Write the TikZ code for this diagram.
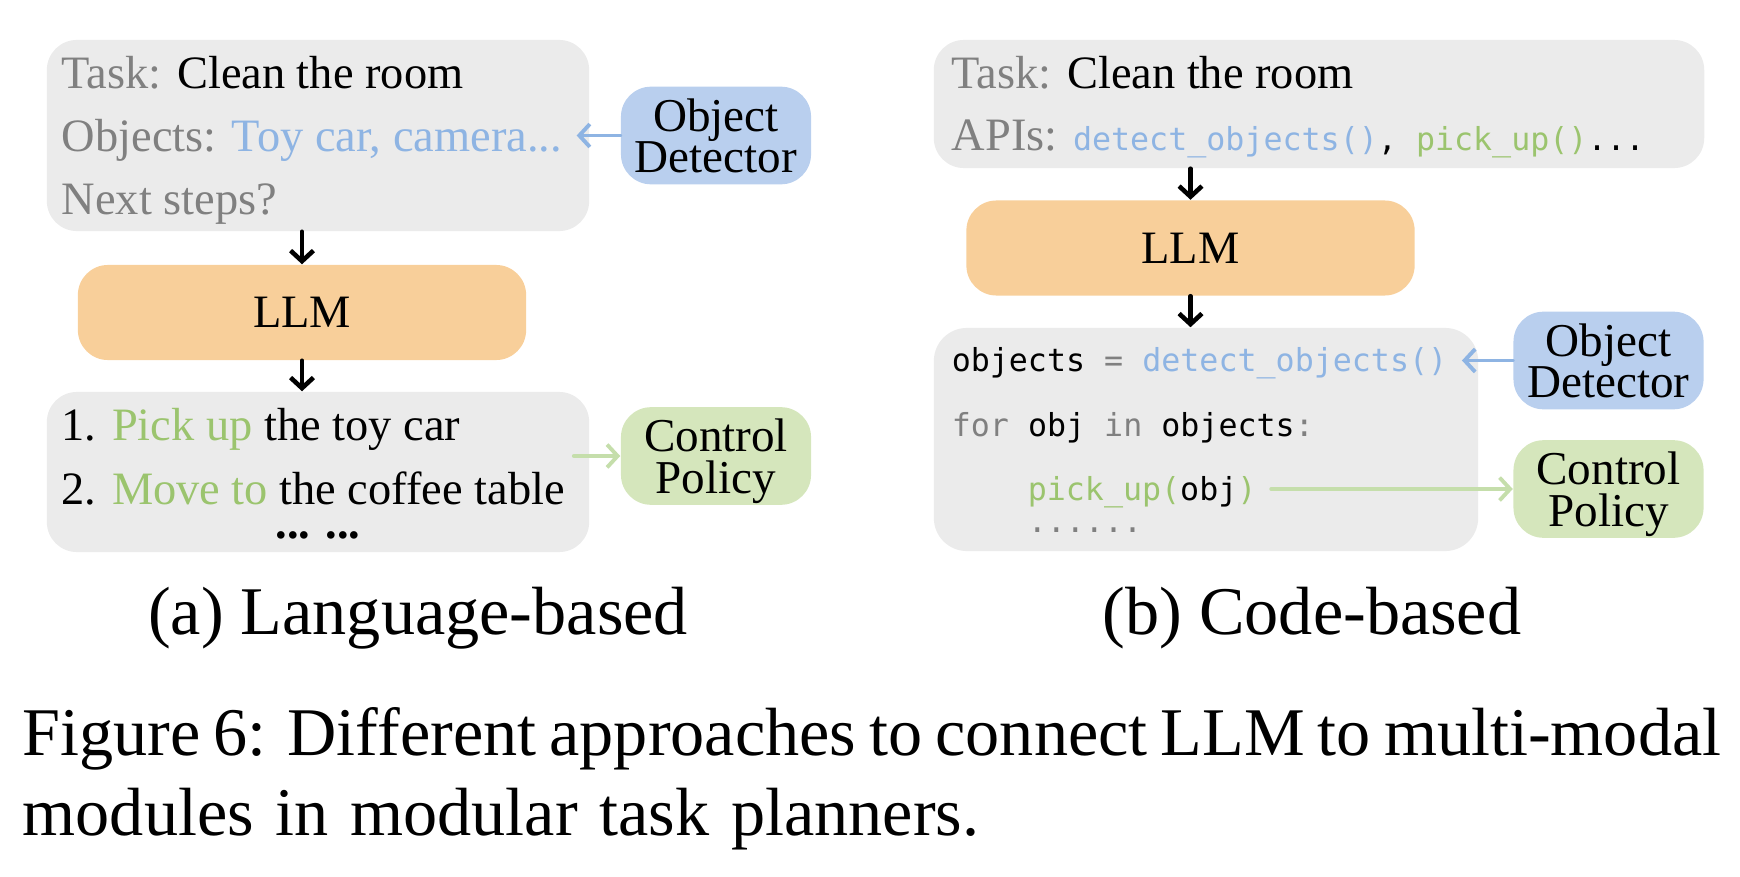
\documentclass[tikz,border=0pt]{standalone}
\usepackage{fontspec}
\setmainfont{Liberation Serif}
\setmonofont{DejaVu Sans Mono}
\usepackage{tikz}
\usetikzlibrary{arrows.meta, calc, positioning}
\definecolor{boxgray}{HTML}{EBEBEB}
\definecolor{textgray}{HTML}{808080}
\definecolor{textblue}{HTML}{8EB4E3}
\definecolor{textgreen}{HTML}{9BC46E}
\definecolor{fillblue}{HTML}{B9CFEE}
\definecolor{fillgreen}{HTML}{D5E6BC}
\definecolor{fillorange}{HTML}{F8CF9A}
\definecolor{arrowgreen}{HTML}{C5DEAB}
\newcommand{\boxfont}{\fontsize{13.2pt}{15pt}\selectfont}
\newcommand{\codefont}{\ttfamily\fontsize{9pt}{11pt}\selectfont}
\newcommand{\capfont}{\fontsize{19.4pt}{23pt}\selectfont}
\newcommand{\us}{\textunderscore}
\tikzstyle{panelbox} = [rectangle, rounded corners=0.3cm, fill=boxgray, inner sep=0pt]
\tikzstyle{llmbox} = [rectangle, rounded corners=0.3cm, fill=fillorange, minimum width=4.48cm, minimum height=0.95cm, font=\boxfont]
\tikzstyle{modulebox} = [rectangle, rounded corners=0.3cm, minimum width=1.9cm, minimum height=0.95cm, align=center, text depth=0pt, font=\fontsize{13.4pt}{11.8pt}\selectfont]
\tikzstyle{detector} = [modulebox, fill=fillblue]
\tikzstyle{policy} = [modulebox, fill=fillgreen]
\tikzstyle{line} = [anchor=base west, inner xsep=4pt, inner ysep=1pt, font=\boxfont]
\tikzstyle{codeline} = [line, font=\codefont]
\tikzstyle{flowarrow} = [-{Straight Barb[length=3pt,width=6.5pt]}, line width=1.3pt, line cap=round]
\tikzstyle{detarrow} = [flowarrow, color=textblue, line width=1.1pt]
\tikzstyle{ctrlarrow} = [flowarrow, color=arrowgreen, line width=1.1pt]

\begin{document}
\begin{tikzpicture}[x=0.01cm, y=-0.01cm]
		\useasboundingbox (0,0) rectangle (1740,876);
		% (a) language-based
		\node (task_lang) [panelbox, minimum width=5.42cm, minimum height=1.91cm] at (318,135.5) {};
		\node (llm_lang) [llmbox] at (302,312.5) {LLM};
		\node (plan_lang) [panelbox, minimum width=5.42cm, minimum height=1.60cm] at (318,472) {};
		\node (det_lang) [detector] at (716,135.5) {Object\\Detector};
		\node (ctrl_lang) [policy] at (716,456) {Control\\Policy};
		\node (task_line) [line] at (47,88.5) {\textcolor{textgray}{Task:} Clean the room};
		\node (objs_line) [line] at (47,152) {\textcolor{textgray}{Objects:} \textcolor{textblue}{Toy car, camera...}};
		\node (next_line) [line] at (47,215) {\textcolor{textgray}{Next steps?}};
		\node (step_one) [line] at (47,440) {1. \textcolor{textgreen}{Pick up} the toy car};
		\node (step_two) [line] at (47,504) {2. \textcolor{textgreen}{Move to} the coffee table};
		\node (step_dots) [line, anchor=base, inner sep=0pt] at (318,538) {\textbf{... ...}};
		\draw [detarrow] (det_lang.west) -- (det_lang.west -| objs_line.east);
		\draw [flowarrow] (task_lang.south -| llm_lang.north) -- (llm_lang.north);
		\draw [flowarrow] (llm_lang.south) -- (llm_lang.south |- plan_lang.north);
		\draw [ctrlarrow] ([xshift=-0.16cm]plan_lang.east |- ctrl_lang.west) -- (ctrl_lang.west);
		% (b) code-based
		\node (task_code) [panelbox, minimum width=7.70cm, minimum height=1.28cm] at (1319,104) {};
		\node (llm_code) [llmbox] at (1190.5,248) {LLM};
		\node (prog_code) [panelbox, minimum width=5.44cm, minimum height=2.23cm, rounded corners=0.33cm] at (1206,439.5) {};
		\node (det_code) [detector] at (1608.5,360.5) {Object\\Detector};
		\node (ctrl_code) [policy] at (1608.5,489) {Control\\Policy};
		\node (task_line2) [line] at (937,88.5) {\textcolor{textgray}{Task:} Clean the room};
		\node (api_line) [line] at (937,151) {\textcolor{textgray}{APIs:} {\codefont\textcolor{textblue}{detect\us objects()}, \textcolor{textgreen}{pick\us up()}...}};
		\node (obj_line) [codeline] at (937,371) {objects \textcolor{textgray}{=} \textcolor{textblue}{detect\us objects()}};
		\node (for_line) [codeline] at (937,436) {\textcolor{textgray}{for} obj \textcolor{textgray}{in} objects\textcolor{textgray}{:}};
		\node (pick_line) [codeline] at (1013,500) {\textcolor{textgreen}{pick\us up(}obj\textcolor{textgreen}{)}};
		\node (code_dots) [codeline, inner ysep=0pt] at (1013,532) {\textcolor{textgray}{......}};
		\draw [flowarrow] (task_code.south -| llm_code.north) -- (llm_code.north);
		\draw [flowarrow] (llm_code.south) -- (llm_code.south |- prog_code.north);
		\draw [detarrow] (det_code.west) -- (det_code.west -| obj_line.east);
		\draw [ctrlarrow] (ctrl_code.west -| pick_line.east) -- (ctrl_code.west);
		% captions
		\node (cap_lang) [anchor=base, font=\capfont] at (418,634) {(a) Language-based};
		\node (cap_code) [anchor=base, font=\capfont] at (1312,634) {(b) Code-based};
		\node (fig_one) [anchor=base west, inner sep=0pt, font=\capfont] at (22,755) {\makebox[483pt][s]{Figure 6: Different approaches to connect LLM to multi-modal}};
		\node (fig_two) [anchor=base west, inner sep=0pt, font=\capfont] at (22,835) {\makebox[272pt][s]{modules in modular task planners.}};
	\end{tikzpicture}
\end{document}
